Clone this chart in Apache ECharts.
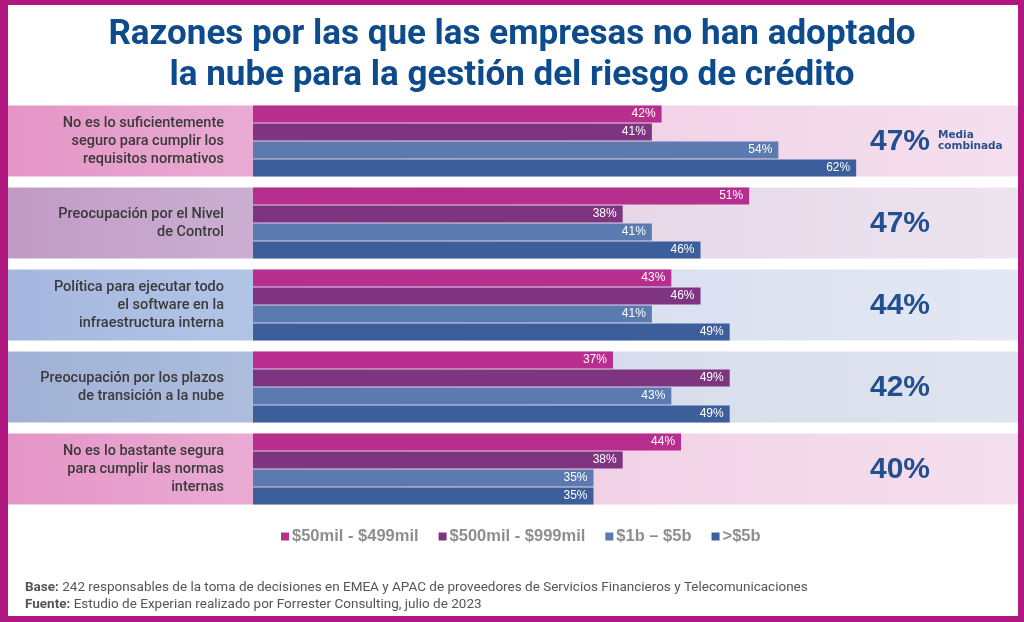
<!DOCTYPE html>
<html><head><meta charset="utf-8">
<script src="https://cdn.jsdelivr.net/npm/echarts@6/dist/echarts.min.js"></script>
<style>html,body{margin:0;padding:0;background:#fff}#c{width:1024px;height:622px}</style>
</head><body><div id="c"></div>
<script>
const categories = [
  'No es lo suficientemente\nseguro para cumplir los\nrequisitos normativos',
  'Preocupación por el Nivel\nde Control',
  'Política para ejecutar todo\nel software en la\ninfraestructura interna',
  'Preocupación por los plazos\nde transición a la nube',
  'No es lo bastante segura\npara cumplir las normas\ninternas'
];
const seriesNames = ['$50mil - $499mil', '$500mil - $999mil', '$1b – $5b', '>$5b'];
const s50mil = [42, 51, 43, 37, 44];
const s500mil = [41, 38, 46, 49, 38];
const s1b = [54, 41, 41, 43, 35];
const s5b = [62, 46, 49, 49, 35];
const averages = [47, 47, 44, 42, 40];
const averageNote = 'Media\ncombinada';
const titleText = 'Razones por las que las empresas no han adoptado\nla nube para la gestión del riesgo de crédito';
const baseText = '242 responsables de la toma de decisiones en EMEA y APAC de proveedores de Servicios Financieros y Telecomunicaciones';
const sourceText = 'Estudio de Experian realizado por Forrester Consulting, julio de 2023';

const seriesColors = ['#b82e8e', '#7e3481', '#5a7ab0', '#3c5f9c'];
const bandStyles = [
  {l: ['#e595c5', '#e9abd4'], r: ['#eec4de', '#f5e0ef']},
  {l: ['#c09bc4', '#cbafd2'], r: ['#dfcbe0', '#ede4ef']},
  {l: ['#a5b7de', '#b2c4e6'], r: ['#d0d8ec', '#e4e8f4']},
  {l: ['#a1b1d5', '#adbdde'], r: ['#cfd5e8', '#e0e4f0']},
  {l: ['#e595c5', '#e9abd4'], r: ['#eec4de', '#f5e0ef']}
];
const frameColor = '#b0177f';

const chart = echarts.init(document.getElementById('c'));
const allData = [s50mil, s500mil, s1b, s5b];

function grad(c) {
  return new echarts.graphic.LinearGradient(0, 0, 1, 0, [{offset: 0, color: c[0]}, {offset: 1, color: c[1]}]);
}

const option = {
  animation: false,
  title: {
    text: titleText, left: 'center', top: 10,
    textStyle: {fontFamily: 'Roboto', fontWeight: 'bold', fontSize: 35, lineHeight: 41, color: '#0e4b8c'}
  },
  legend: {
    top: 523, left: 276, icon: 'rect', itemWidth: 8, itemHeight: 8, itemGap: 20,
    textStyle: {fontFamily: 'Liberation Sans', fontWeight: 'bold', fontSize: 16.5, color: '#8e8e8e', padding: [0, 0, 0, -2]},
    data: seriesNames
  },
  grid: {left: 253, top: 100, height: 410, width: 681, containLabel: false},
  xAxis: {type: 'value', min: 0, max: 70, show: false},
  yAxis: {
    type: 'category', data: categories, inverse: true, z: 5,
    axisLine: {show: false}, axisTick: {show: false}, splitLine: {show: false},
    axisLabel: {margin: 29, align: 'right', fontFamily: 'Roboto', fontWeight: 500, fontSize: 14.5, lineHeight: 18, color: '#3a3a3a'}
  },
  series: allData.map((d, i) => ({
    name: seriesNames[i], type: 'bar', data: d, z: 5,
    barWidth: 17, barGap: '6%',
    itemStyle: {color: seriesColors[i]},
    label: {show: true, position: 'insideRight', distance: 6, formatter: '{c}%', color: '#ffffff', fontFamily: 'Liberation Sans', fontSize: 12}
  }))
};
chart.setOption(option);

const g = [];
g.push({type: 'rect', shape: {x: 0, y: 0, width: 1024, height: 5}, style: {fill: frameColor}, z: 10});
g.push({type: 'rect', shape: {x: 0, y: 616, width: 1024, height: 6}, style: {fill: frameColor}, z: 10});
g.push({type: 'rect', shape: {x: 0, y: 0, width: 8, height: 622}, style: {fill: frameColor}, z: 10});
g.push({type: 'rect', shape: {x: 1018, y: 0, width: 6, height: 622}, style: {fill: frameColor}, z: 10});

categories.forEach((c, i) => {
  const cy = chart.convertToPixel({yAxisIndex: 0}, i);
  const x0 = chart.convertToPixel({xAxisIndex: 0}, 0);
  const top = cy - 35.5, h = 71;
  g.push({type: 'rect', shape: {x: 8, y: top, width: x0 - 8, height: h}, style: {fill: grad(bandStyles[i].l)}, z: 0});
  g.push({type: 'rect', shape: {x: x0, y: top, width: 1018 - x0, height: h}, style: {fill: grad(bandStyles[i].r)}, z: 0});
  g.push({type: 'text', x: 900, y: cy + 1, style: {text: averages[i] + '%', fill: '#22508f', font: 'bold 30px "Liberation Sans"', textAlign: 'center', textVerticalAlign: 'middle'}, z: 6});
  if (i === 0) {
    g.push({type: 'text', x: 938, y: cy, style: {text: averageNote, fill: '#2a5290', font: '600 10.5px "DejaVu Sans"', lineHeight: 11, textAlign: 'left', textVerticalAlign: 'middle'}, z: 6});
  }
});

const footRich = {b: {fontWeight: 'bold', fontFamily: 'Roboto', fontSize: 13.5, fill: '#555'}, n: {fontFamily: 'Roboto', fontSize: 13.5, fill: '#555'}};
g.push({type: 'text', x: 25, y: 588, style: {rich: footRich, text: '{b|Base:} {n|' + baseText + '}', textVerticalAlign: 'middle'}, z: 6});
g.push({type: 'text', x: 25, y: 605, style: {rich: footRich, text: '{b|Fuente:} {n|' + sourceText + '}', textVerticalAlign: 'middle'}, z: 6});

chart.setOption({graphic: {elements: g}});
</script>
</body></html>
